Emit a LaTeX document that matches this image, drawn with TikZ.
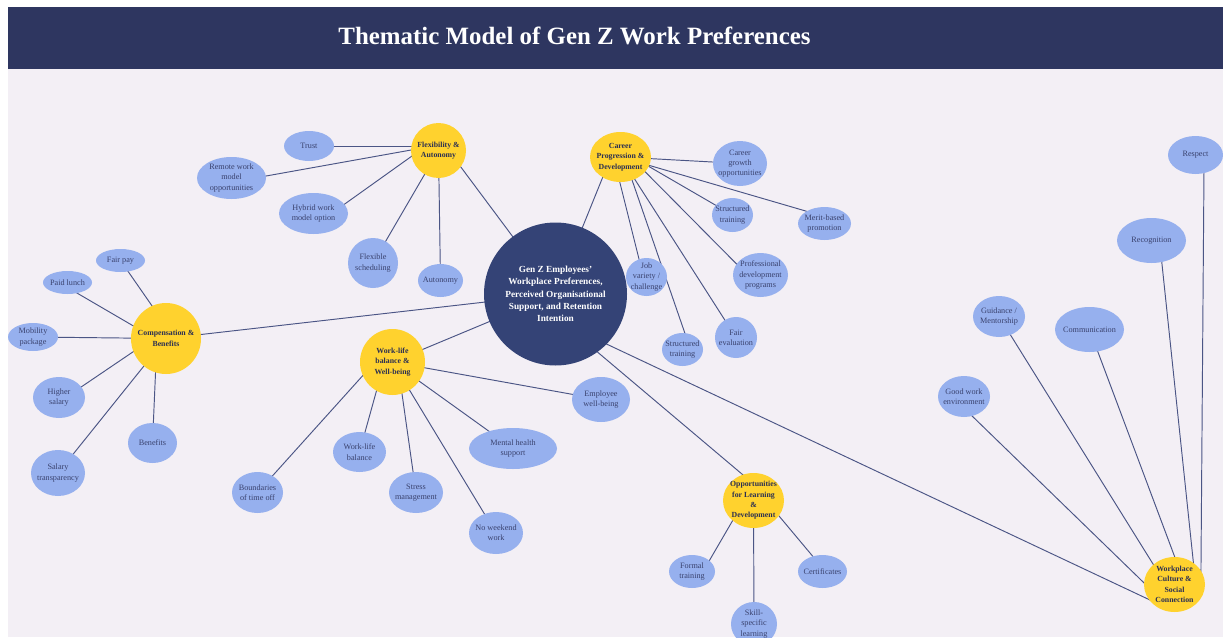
\documentclass[tikz,border=0pt]{standalone}
\usepackage{fontspec}
\setmainfont{Liberation Serif}
\usetikzlibrary{shapes.geometric}
\pgfdeclarelayer{bg}
\pgfdeclarelayer{edges}
\pgfsetlayers{bg,edges,main}
\definecolor{hdr}{HTML}{2E3660}
\definecolor{pagebg}{HTML}{F3EFF5}
\definecolor{ctrblue}{HTML}{344376}
\definecolor{hubyellow}{HTML}{FFD22E}
\definecolor{childblue}{HTML}{96B0EE}
\definecolor{linkcol}{HTML}{4B5585}
\definecolor{childtxt}{HTML}{3A426E}
\definecolor{hubtxt}{HTML}{2B2F52}
\begin{document}
\begin{tikzpicture}[x=1pt,y=-1pt,
  sz/.style 2 args={minimum width=#1pt, minimum height=#2pt},
  child/.style={ellipse, fill=childblue, text=childtxt, align=center, inner sep=-12pt,
    font=\fontsize{8.2}{10.3}\selectfont},
  hub/.style={ellipse, fill=hubyellow, text=hubtxt, align=center, inner sep=-12pt,
    font=\bfseries\fontsize{7.8}{10.4}\selectfont},
  core/.style={circle, fill=ctrblue, text=white, align=center, inner sep=-20pt,
    minimum size=143pt, font=\bfseries\fontsize{9.3}{12.4}\selectfont},
  titletext/.style={text=white, font=\bfseries\fontsize{24.9}{30}\selectfont, anchor=base},
  link/.style={draw=linkcol, line width=0.95pt}
]
\useasboundingbox (0,0) rectangle (1223,637);
\begin{pgfonlayer}{bg}
  \fill[white] (0,0) rectangle (1223,637);
  \fill[pagebg] (8,69) rectangle (1223,637);
  \fill[hdr] (8,7) rectangle (1223,69);
\end{pgfonlayer}
\node[titletext] (title) at (574.5,44) {Thematic Model of Gen Z Work Preferences};

% core and hubs
\node[core] (ctr) at (555.5,294) {Gen Z Employees'\\Workplace Preferences,\\Perceived Organisational\\Support, and Retention\\Intention};
\node[hub, sz={55}{55}] (flex) at (438.5,150.5) {Flexibility \&\\Autonomy};
\node[hub, sz={61}{50}] (career) at (620.5,157) {Career\\Progression \&\\Development};
\node[hub, sz={70}{71}] (comp) at (166,338.5) {Compensation \&\\Benefits};
\node[hub, sz={65}{66}] (wlb) at (392.5,362) {Work-life\\balance \&\\Well-being};
\node[hub, sz={61}{55}] (opp) at (753.5,500.5) {Opportunities\\for Learning\\\&\\Development};
\node[hub, sz={61}{55}] (wpc) at (1174.5,584.5) {Workplace\\Culture \&\\Social\\Connection};

% flexibility
\node[child, sz={50}{30}] (trust) at (309,146) {Trust};
\node[child, sz={69}{42}] (remote) at (231.5,178) {Remote work\\model\\opportunities};
\node[child, sz={69}{41}] (hybrid) at (313.5,213.5) {Hybrid work\\model option};
\node[child, sz={50}{50}] (flexsch) at (373,263) {Flexible\\scheduling};
\node[child, sz={45}{33}] (auton) at (440.5,280.5) {Autonomy};
% career
\node[child, sz={54}{45}] (cgrowth) at (740,163.5) {Career\\growth\\opportunities};
\node[child, sz={41}{34}] (strtr1) at (732.5,215) {Structured\\training};
\node[child, sz={53}{33}] (merit) at (824.5,223.5) {Merit-based\\promotion};
\node[child, sz={55}{44}] (profdev) at (760.5,275) {Professional\\development\\programs};
\node[child, sz={41}{38}] (jobvar) at (646.5,277) {Job\\variety /\\challenge};
\node[child, sz={41}{33}] (strtr2) at (682.5,349.5) {Structured\\training};
\node[child, sz={42}{41}] (faireval) at (736,337.5) {Fair\\evaluation};
% compensation
\node[child, sz={49}{23}] (fairpay) at (120.5,260.5) {Fair pay};
\node[child, sz={49}{23}] (lunch) at (67.5,282.5) {Paid lunch};
\node[child, sz={50}{28}] (mobility) at (33,337) {Mobility\\package};
\node[child, sz={52}{41}] (higher) at (59,397.5) {Higher\\salary};
\node[child, sz={49}{40}] (benefits) at (152.5,443) {Benefits};
\node[child, sz={54}{46}] (saltr) at (58,473) {Salary\\transparency};
% work-life
\node[child, sz={51}{41}] (bound) at (257.5,492.5) {Boundaries\\of time off};
\node[child, sz={53}{40}] (wlbal) at (359.5,452) {Work-life\\balance};
\node[child, sz={54}{41}] (stress) at (416,492.5) {Stress\\management};
\node[child, sz={54}{42}] (noweek) at (496,533) {No weekend\\work};
\node[child, sz={88}{41}] (mental) at (513,448.5) {Mental health\\support};
\node[child, sz={58}{45}] (empwb) at (601,399.5) {Employee\\well-being};
% learning
\node[child, sz={46}{33}] (formal) at (692,571.5) {Formal\\training};
\node[child, sz={49}{33}] (cert) at (822.5,571.5) {Certificates};
\node[child, sz={46}{44}] (skill) at (754,624) {Skill-\\specific\\learning};
% culture
\node[child, sz={52}{41}] (goodenv) at (964,396.5) {Good work\\environment};
\node[child, sz={52}{41}] (guid) at (999,316.5) {Guidance /\\Mentorship};
\node[child, sz={69}{45}] (comm) at (1089.5,329.5) {Communication};
\node[child, sz={69}{45}] (recog) at (1151.5,240.5) {Recognition};
\node[child, sz={55}{38}] (respect) at (1195.5,155) {Respect};

\begin{pgfonlayer}{edges}
  % core links
  \draw[link] (ctr.center) -- ([shift={(10,0)}]flex.center);
  \draw[link] (ctr.center) -- ([shift={(-9.6,0)}]career.center);
  \draw[link] (ctr.center) -- (comp.center);
  \draw[link] (ctr.center) -- (wlb.center);
  \draw[link] ([shift={(0,22.6)}]ctr.center) -- ([shift={(0,-16.7)}]opp.center);
  \draw[link] ([shift={(0,26)}]ctr.center) -- ([shift={(-13.9,20.5)}]wpc.center);
  % flexibility
  \draw[link] ([shift={(0,-4.5)}]flex.center) -- (trust.center);
  \draw[link] ([shift={(0,-5.4)}]flex.center) -- ([shift={(0,4.2)}]remote.center);
  \draw[link] ([shift={(0,-13.4)}]flex.center) -- ([shift={(0,12.8)}]hybrid.center);
  \draw[link] (flex.center) -- (flexsch.center);
  \draw[link] (flex.center) -- (auton.center);
  % career
  \draw[link] (career.center) -- (cgrowth.center);
  \draw[link] ([shift={(0,-7)}]career.center) -- (strtr1.center);
  \draw[link] (career.center) -- ([shift={(0,-7)}]merit.center);
  \draw[link] ([shift={(10,0)}]career.center) -- ([shift={(-13,0)}]profdev.center);
  \draw[link] ([shift={(-7,0)}]career.center) -- ([shift={(-3,0)}]jobvar.center);
  \draw[link] ([shift={(3.6,0)}]career.center) -- ([shift={(8,0)}]strtr2.center);
  \draw[link] (career.center) -- (faireval.center);
  % compensation
  \draw[link] ([shift={(8.7,0)}]comp.center) -- (fairpay.center);
  \draw[link] ([shift={(0,6.5)}]comp.center) -- ([shift={(0,5)}]lunch.center);
  \draw[link] (comp.center) -- (mobility.center);
  \draw[link] ([shift={(0,-9)}]comp.center) -- ([shift={(0,4.5)}]higher.center);
  \draw[link] (comp.center) -- (saltr.center);
  \draw[link] ([shift={(-9,0)}]comp.center) -- (benefits.center);
  % work-life
  \draw[link] ([shift={(-17.5,0)}]wlb.center) -- (bound.center);
  \draw[link] ([shift={(-8,0)}]wlb.center) -- (wlbal.center);
  \draw[link] ([shift={(5,0)}]wlb.center) -- (stress.center);
  \draw[link] (wlb.center) -- (noweek.center);
  \draw[link] (wlb.center) -- (mental.center);
  \draw[link] (wlb.center) -- (empwb.center);
  % learning
  \draw[link] ([shift={(-11.8,4.5)}]opp.center) -- ([shift={(11,0)}]formal.center);
  \draw[link] (opp.center) -- (skill.center);
  \draw[link] ([shift={(16.3,4.5)}]opp.center) -- ([shift={(3,0)}]cert.center);
  % culture
  \draw[link] ([shift={(-18,10.5)}]wpc.center) -- ([shift={(-12,0)}]goodenv.center);
  \draw[link] ([shift={(-2.2,10.5)}]wpc.center) -- (guid.center);
  \draw[link] ([shift={(14.5,10.5)}]wpc.center) -- (comm.center);
  \draw[link] ([shift={(22.3,10.5)}]wpc.center) -- ([shift={(8,0)}]recog.center);
  \draw[link] ([shift={(26.3,5.5)}]wpc.center) -- ([shift={(8.6,0)}]respect.center);
\end{pgfonlayer}
\end{tikzpicture}
\end{document}
